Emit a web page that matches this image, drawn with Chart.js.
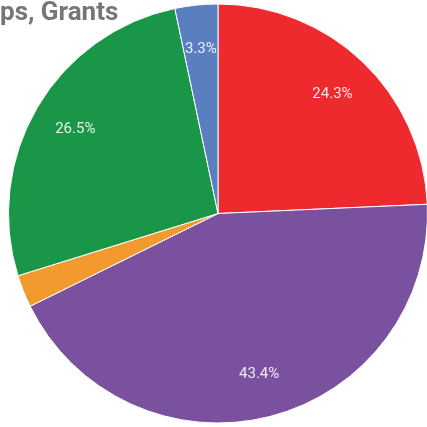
<!DOCTYPE html>
<html>
<head>
<meta charset="utf-8">
<script src="https://cdn.jsdelivr.net/npm/chart.js@4.4.1/dist/chart.umd.min.js"></script>
<style>
  html, body { margin: 0; padding: 0; background: #ffffff; overflow: hidden; }
  #wrap { position: relative; width: 427px; height: 427px; overflow: hidden; }
  #chartBox { position: absolute; left: 0; top: 0; width: 440px; height: 427px; }
  #title {
    position: absolute; left: 0; top: -4px; line-height: 30px;
    font-family: Roboto, "Noto Sans", sans-serif; font-weight: bold;
    font-size: 26px; color: #767676; white-space: nowrap;
  }
</style>
</head>
<body>
<div id="wrap">
  <div id="chartBox"><canvas id="pieChart"></canvas></div>
  <div id="title">ps, Grants</div>
</div>
<script>
// slice order clockwise from 12 o'clock
const categories = ['Red', 'Purple', 'Orange', 'Green', 'Blue'];
const shares = [24.3, 43.4, 2.5, 26.5, 3.3];
const shownLabels = ['24.3%', '43.4%', '', '26.5%', '3.3%'];
const sliceColors = ['#ee2a2f', '#7a519f', '#f29a2e', '#1a9648', '#5a7fc0'];

// Draws the percentage labels inside each slice
const sliceLabels = {
  id: 'sliceLabels',
  afterDatasetsDraw(chart) {
    const { ctx } = chart;
    const meta = chart.getDatasetMeta(0);
    ctx.save();
    ctx.font = '15px Roboto, "Noto Sans", sans-serif';
    ctx.fillStyle = 'rgba(255,255,255,0.88)';
    ctx.textAlign = 'center';
    ctx.textBaseline = 'middle';
    meta.data.forEach((arc, i) => {
      if (!shownLabels[i]) return;
      const mid = (arc.startAngle + arc.endAngle) / 2;
      const r = arc.outerRadius * 0.79;
      ctx.fillText(shownLabels[i], arc.x + Math.cos(mid) * r, arc.y + Math.sin(mid) * r);
    });
    ctx.restore();
  }
};

new Chart(document.getElementById('pieChart').getContext('2d'), {
  type: 'pie',
  data: {
    labels: categories,
    datasets: [{
      data: shares,
      backgroundColor: sliceColors,
      borderColor: '#ffffff',
      borderWidth: 1
    }]
  },
  options: {
    responsive: true,
    maintainAspectRatio: false,
    animation: false,
    layout: { padding: { left: 0, right: 4, top: 3.5, bottom: 3.5 } },
    plugins: {
      legend: { display: false },
      tooltip: { enabled: false }
    }
  },
  plugins: [sliceLabels]
});
</script>
</body>
</html>
